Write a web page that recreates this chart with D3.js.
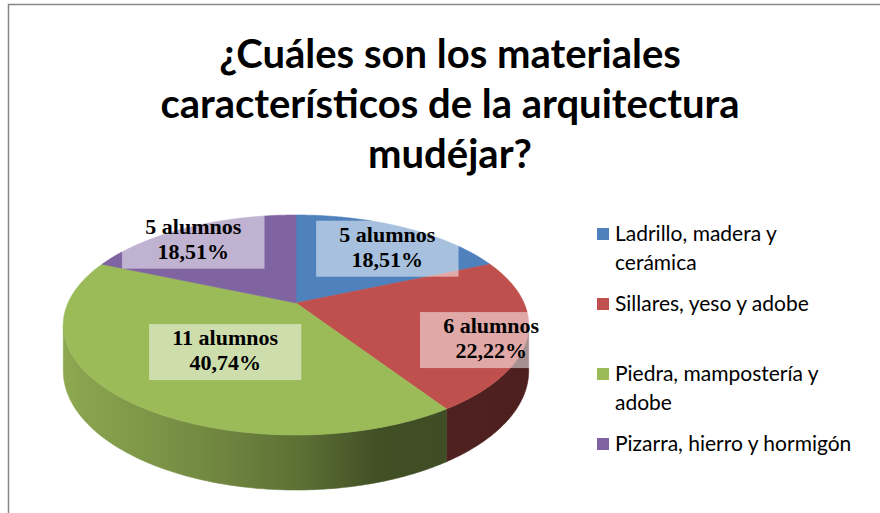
<!DOCTYPE html>
<meta charset='utf-8'>
<style>
body { margin: 0; background: #fff; }
.title { font-family: Lato, sans-serif; font-weight: bold; font-size: 40px; fill: #000; }
.legend text { font-family: Lato, sans-serif; font-size: 21px; fill: #000; }
.lbl { font-family: 'Liberation Serif', serif; font-weight: bold; font-size: 22px; fill: #000; }
</style>
<svg width='880' height='513'></svg>
<script src='https://d3js.org/d3.v7.min.js'></script>
<script>

// data
var categories = ['Ladrillo, madera y cerámica', 'Sillares, yeso y adobe',
                  'Piedra, mampostería y adobe', 'Pizarra, hierro y hormigón'];
var legendLines = [['Ladrillo, madera y', 'cerámica'], ['Sillares, yeso y adobe'],
                   ['Piedra, mampostería y', 'adobe'], ['Pizarra, hierro y hormigón']];
var alumnos = [5, 6, 11, 5];
var percents = ['18,51%', '22,22%', '40,74%', '18,51%'];
var colors = ['#4F81BD', '#C0504D', '#9BBB59', '#8064A2'];
var titleLines = ['¿Cuáles son los materiales', 'característicos de la arquitectura', 'mudéjar?'];

// layout
var labelR = [0.83, 0.85, 0.45, 0.95];

var svg = d3.select('svg');

svg.append('path')
    .attr('d', 'M8.5,520 V4.5 H890')
    .attr('fill', 'none')
    .attr('stroke', '#868686')
    .attr('stroke-width', 1.5);

svg.append('g').selectAll('text')
    .data(titleLines)
    .enter().append('text')
    .attr('class', 'title')
    .attr('x', 450)
    .attr('y', function(d, i) { return 68 + i * 50; })
    .attr('text-anchor', 'middle')
    .text(function(d) { return d; });

// simple perspective for the tilted disc
var cx = 296, kx = 228, persp = 0.2, depth = 44;
function proj(a, r, z) {
    var u = -r * Math.cos(a), v = r * Math.sin(a);
    var w = 1 - persp * u;
    return [cx + kx * v / w, (45 * u + 303) / w + z * depth / w];
}

var pie = d3.pie().sort(null).value(function(d) { return d; });
var arcs = pie(alumnos);

var line = d3.line().curve(d3.curveLinear);
function arcPts(a0, a1, r, z) {
    var n = Math.max(2, Math.ceil(Math.abs(a1 - a0) / 0.01)), pts = [];
    for (var i = 0; i <= n; i++) pts.push(proj(a0 + (a1 - a0) * i / n, r, z));
    return pts;
}

var defs = svg.append('defs');
var shade = [[0, 0.9], [0.3, 0.74], [0.51, 0.6], [0.68, 0.42], [1, 0.4]];
colors.forEach(function(c, i) {
    var g = defs.append('linearGradient')
        .attr('id', 'side' + i)
        .attr('gradientUnits', 'userSpaceOnUse')
        .attr('x1', cx - 233).attr('x2', cx + 233)
        .attr('y1', 0).attr('y2', 0);
    var base = d3.rgb(c);
    shade.forEach(function(s) {
        g.append('stop').attr('offset', s[0])
            .attr('stop-color', d3.rgb(base.r * s[1], base.g * s[1], base.b * s[1]));
    });
});

// visible part of the rim lies between the two silhouette points
var vis0 = Math.acos(-persp), vis1 = 2 * Math.PI - Math.acos(-persp);

var sides = svg.append('g');
arcs.forEach(function(d, i) {
    var a0 = Math.max(d.startAngle, vis0), a1 = Math.min(d.endAngle, vis1);
    if (a1 <= a0) return;
    var pts = arcPts(a0, a1, 1, 0).concat(arcPts(a1, a0, 1, 1));
    sides.append('path')
        .attr('d', line(pts) + 'Z')
        .attr('fill', 'url(#side' + i + ')')
        .attr('stroke', 'url(#side' + i + ')')
        .attr('stroke-width', 0.6);
});

var tops = svg.append('g');
arcs.forEach(function(d, i) {
    var pts = [proj(0, 0, 0)].concat(arcPts(d.startAngle, d.endAngle, 1, 0));
    tops.append('path')
        .attr('d', line(pts) + 'Z')
        .attr('fill', colors[i])
        .attr('stroke', colors[i])
        .attr('stroke-width', 0.6);
});

// data labels
var labels = svg.append('g');
arcs.forEach(function(d, i) {
    var p = proj((d.startAngle + d.endAngle) / 2, labelR[i], 0);
    var g = labels.append('g').attr('transform', 'translate(' + p[0] + ',' + (p[1] + 10) + ')');
    var box = g.append('rect');
    var t = g.append('text').attr('class', 'lbl').attr('text-anchor', 'middle');
    t.append('tspan').attr('x', 0).attr('y', -7).text(alumnos[i] + ' alumnos');
    t.append('tspan').attr('x', 0).attr('y', 18).text(percents[i]);
    var bb = t.node().getBBox();
    var w = bb.width + 46;
    box.attr('x', -w / 2).attr('y', -28).attr('width', w).attr('height', 56)
        .attr('fill', '#fff').attr('fill-opacity', 0.5);
});

// legend
var legend = svg.append('g').attr('class', 'legend')
    .attr('transform', 'translate(597,0)');
var item = legend.selectAll('g')
    .data(legendLines)
    .enter().append('g')
    .attr('transform', function(d, i) { return 'translate(0,' + (233 + i * 70) + ')'; });
item.append('rect')
    .attr('x', 0).attr('y', -5).attr('width', 12).attr('height', 12)
    .attr('fill', function(d, i) { return colors[i]; });
item.append('text')
    .attr('x', 18)
    .selectAll('tspan')
    .data(function(d) { return d; })
    .enter().append('tspan')
    .attr('x', 18)
    .attr('y', function(d, j) { return 8 + j * 29; })
    .text(function(d) { return d; });

</script>
